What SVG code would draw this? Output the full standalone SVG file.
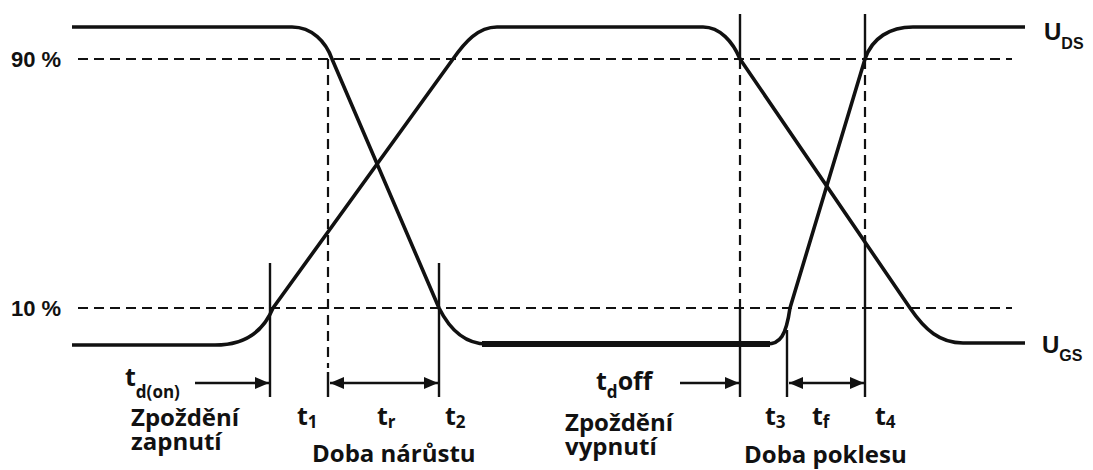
<svg xmlns="http://www.w3.org/2000/svg" width="1093" height="470" viewBox="0 0 1093 470">
<style>
.bg{fill:#fff}
.dash{stroke:#111;stroke-width:2.2;stroke-dasharray:10 6;fill:none}
.vd{stroke:#111;stroke-width:2.2;stroke-dasharray:10 6;fill:none}
.vs{stroke:#111;stroke-width:2.4;fill:none}
.curve{stroke:#111;stroke-width:3.6;fill:none;stroke-linejoin:round}
.thick{stroke:#111;stroke-width:6;fill:none}
.arr{stroke:#111;stroke-width:2.6;fill:none}
.pct{font-family:"Liberation Sans",Arial,sans-serif;font-weight:bold;font-size:22px;fill:#111}
.u{font-family:"Liberation Sans",Arial,sans-serif;font-weight:bold;font-size:24px;fill:#111}
.usub{font-family:"Liberation Sans",Arial,sans-serif;font-weight:bold;font-size:16px;fill:#111}
.lbl{font-family:"Open Sans","DejaVu Sans",sans-serif;font-weight:bold;font-size:24px;fill:#111}
.t{font-family:"Open Sans","DejaVu Sans",sans-serif;font-weight:bold;font-size:25px;fill:#111}
.ts{font-family:"Open Sans","DejaVu Sans",sans-serif;font-weight:bold;font-size:17px;fill:#111}
</style>
<defs>
<marker id="ah" viewBox="0 0 14 12" refX="14" refY="6" markerWidth="14" markerHeight="12" markerUnits="userSpaceOnUse" orient="auto-start-reverse">
<path d="M0,0 L14,6 L0,12 z" fill="#111"/>
</marker>
</defs>
<rect class="bg" x="0" y="0" width="1093" height="470"/>
<g id="levels">
<line class="dash" x1="78" y1="59" x2="1012" y2="59"/>
<line class="dash" x1="78" y1="308" x2="1012" y2="308"/>
<text class="pct" x="11" y="67">90 %</text>
<text class="pct" x="11" y="316">10 %</text>
</g>
<g id="connectors">
<line class="vs" x1="270" y1="263" x2="270" y2="397"/>
<line class="vd" x1="328" y1="59" x2="328" y2="368"/>
<line class="vs" x1="328" y1="372" x2="328" y2="397"/>
<line class="vs" x1="439" y1="263" x2="439" y2="397"/>
<line class="vs" x1="740" y1="14" x2="740" y2="59"/>
<line class="vd" x1="740" y1="59" x2="740" y2="308"/>
<line class="vs" x1="740" y1="308" x2="740" y2="397"/>
<line class="vs" x1="787" y1="330" x2="787" y2="397"/>
<line class="vs" x1="865" y1="14" x2="865" y2="59"/>
<line class="vd" x1="865" y1="59" x2="865" y2="236"/>
<line class="vs" x1="865" y1="236" x2="865" y2="397"/>
<line class="arr" x1="195" y1="383" x2="269" y2="383" marker-end="url(#ah)"/>
<line class="arr" x1="330" y1="383" x2="438" y2="383" marker-start="url(#ah)" marker-end="url(#ah)"/>
<line class="arr" x1="680" y1="383" x2="739" y2="383" marker-end="url(#ah)"/>
<line class="arr" x1="789" y1="383" x2="864" y2="383" marker-start="url(#ah)" marker-end="url(#ah)"/>
</g>
<g id="uds">
<path class="curve" d="M72,27 H292 C312,27 326,42 332,59 L439,308 C450,330 465,344 487,344 H767 C780,344 786,336 790,308 L865,59 C872,38 890,27 913,27 H1025"/>
<line class="thick" x1="482" y1="344" x2="770" y2="344"/>
<text class="u" x="1044" y="40">U<tspan class="usub" dy="9">DS</tspan></text>
</g>
<g id="ugs">
<path class="curve" d="M72,345 H215 C240,345 262,335 273,308 L453,59 C465,42 478,27 497,27 H703 C720,27 733,42 740,59 L910,308 C925,330 940,343 963,343 H1025"/>
<text class="u" x="1042" y="353">U<tspan class="usub" dy="8">GS</tspan></text>
</g>
<g id="turn-on">
<text class="t" x="125" y="386">t<tspan class="ts" dy="12">d(on)</tspan></text>
<text class="lbl" x="131" y="426">Zpoždění</text>
<text class="lbl" x="131" y="450">zapnutí</text>
<text class="t" x="297" y="425">t<tspan class="ts" dy="3">1</tspan></text>
<text class="t" x="377" y="425">t<tspan class="ts" dy="3">r</tspan></text>
<text class="t" x="445" y="425">t<tspan class="ts" dy="3">2</tspan></text>
<text class="lbl" x="312" y="462">Doba nárůstu</text>
</g>
<g id="turn-off">
<text class="t" x="596" y="390">t<tspan class="ts" dy="8">d</tspan><tspan dy="-8">off</tspan></text>
<text class="lbl" x="565" y="431">Zpoždění</text>
<text class="lbl" x="565" y="455">vypnutí</text>
<text class="t" x="765" y="425">t<tspan class="ts" dy="3">3</tspan></text>
<text class="t" x="812" y="425">t<tspan class="ts" dy="3">f</tspan></text>
<text class="t" x="875" y="425">t<tspan class="ts" dy="3">4</tspan></text>
<text class="lbl" x="744" y="463">Doba poklesu</text>
</g>
</svg>
